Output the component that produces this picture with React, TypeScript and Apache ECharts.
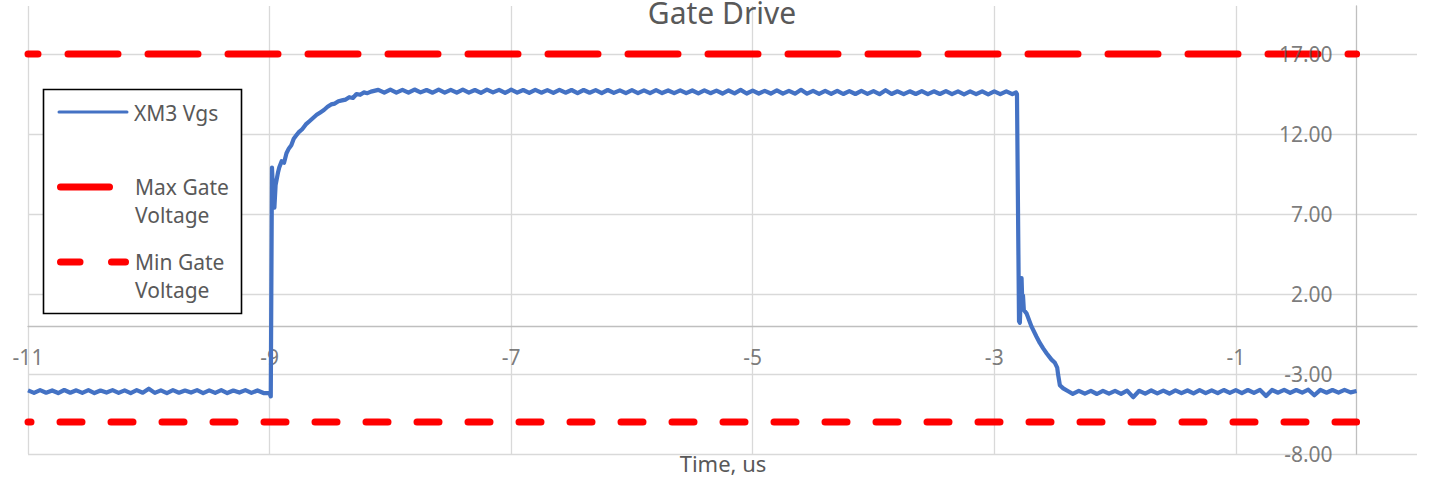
import React, { useEffect, useRef } from 'react';
import * as echarts from 'echarts';

// ---------- data ----------
const seriesNames = ['XM3 Vgs', 'Max Gate Voltage', 'Min Gate Voltage'];
const legendLines = [['XM3 Vgs'], ['Max Gate', 'Voltage'], ['Min Gate', 'Voltage']];
const chartTitle = 'Gate Drive';
const xAxisTitle = 'Time, us';
const timeRange = [-11, 0];
const maxGateVoltage = 17;
const minGateVoltage = -6;
const xTickLabels = [-11, -9, -7, -5, -3, -1];
const yTickLabels = [-8, -3, 2, 7, 12, 17];

// XM3 Vgs: [time us, volts]
const vgsBefore = [
  [-11.0, -4.02], [-10.95, -4.18], [-10.9, -4.01], [-10.85, -4.17], [-10.8, -4.03], [-10.75, -4.19],
  [-10.7, -4.0], [-10.65, -4.17], [-10.6, -4.02], [-10.55, -4.18], [-10.5, -4.01], [-10.45, -4.19],
  [-10.4, -4.03], [-10.35, -4.16], [-10.3, -4.01], [-10.25, -4.18], [-10.2, -4.02], [-10.15, -4.19],
  [-10.1, -4.01], [-10.05, -4.17], [-10.0, -3.92], [-9.95, -4.18], [-9.9, -4.02], [-9.85, -4.19],
  [-9.8, -4.01], [-9.75, -4.17], [-9.7, -4.03], [-9.65, -4.16], [-9.6, -4.01], [-9.55, -4.19],
  [-9.5, -4.02], [-9.45, -4.18], [-9.4, -4.01], [-9.35, -4.19], [-9.3, -4.03], [-9.25, -4.16],
  [-9.2, -4.01], [-9.15, -4.18], [-9.1, -4.03], [-9.05, -4.19], [-9.0, -4.2],
];
const vgsRise = [
  [-8.99, -4.4], [-8.98, 9.9], [-8.97, 8.2], [-8.96, 7.4], [-8.95, 8.8], [-8.93, 9.6],
  [-8.92, 9.9], [-8.9, 10.3], [-8.88, 10.2], [-8.86, 10.8], [-8.84, 11.1], [-8.82, 11.3],
  [-8.8, 11.7], [-8.78, 11.9], [-8.76, 12.1], [-8.73, 12.3], [-8.7, 12.6], [-8.67, 12.8],
  [-8.64, 13.0], [-8.61, 13.2], [-8.58, 13.35], [-8.55, 13.5], [-8.52, 13.7], [-8.49, 13.85],
  [-8.46, 13.9], [-8.43, 14.05], [-8.4, 14.1], [-8.37, 14.15], [-8.34, 14.3], [-8.31, 14.25],
  [-8.28, 14.5], [-8.25, 14.45], [-8.22, 14.6], [-8.19, 14.55], [-8.16, 14.65],
];
const vgsOn = [
  [-8.1, 14.76], [-8.05, 14.58], [-8.0, 14.77], [-7.95, 14.59], [-7.9, 14.76], [-7.85, 14.58],
  [-7.8, 14.78], [-7.75, 14.6], [-7.7, 14.75], [-7.65, 14.58], [-7.6, 14.77], [-7.55, 14.59],
  [-7.5, 14.76], [-7.45, 14.58], [-7.4, 14.77], [-7.35, 14.59], [-7.3, 14.75], [-7.25, 14.57],
  [-7.2, 14.77], [-7.15, 14.6], [-7.1, 14.76], [-7.05, 14.57], [-7.0, 14.77], [-6.95, 14.59],
  [-6.9, 14.75], [-6.85, 14.57], [-6.8, 14.76], [-6.75, 14.58], [-6.7, 14.74], [-6.65, 14.57],
  [-6.6, 14.76], [-6.55, 14.58], [-6.5, 14.75], [-6.45, 14.56], [-6.4, 14.75], [-6.35, 14.58],
  [-6.3, 14.74], [-6.25, 14.56], [-6.2, 14.75], [-6.15, 14.57], [-6.1, 14.73], [-6.05, 14.56],
  [-6.0, 14.74], [-5.95, 14.56], [-5.9, 14.73], [-5.85, 14.55], [-5.8, 14.74], [-5.75, 14.56],
  [-5.7, 14.72], [-5.65, 14.55], [-5.6, 14.73], [-5.55, 14.55], [-5.5, 14.72], [-5.45, 14.54],
  [-5.4, 14.73], [-5.35, 14.55], [-5.3, 14.71], [-5.25, 14.53], [-5.2, 14.72], [-5.15, 14.54],
  [-5.1, 14.76], [-5.05, 14.53], [-5.0, 14.71], [-4.95, 14.53], [-4.9, 14.7], [-4.85, 14.53],
  [-4.8, 14.72], [-4.75, 14.52], [-4.7, 14.7], [-4.65, 14.52], [-4.6, 14.76], [-4.55, 14.52],
  [-4.5, 14.69], [-4.45, 14.51], [-4.4, 14.69], [-4.35, 14.51], [-4.3, 14.7], [-4.25, 14.5],
  [-4.2, 14.68], [-4.15, 14.5], [-4.1, 14.69], [-4.05, 14.51], [-4.0, 14.68], [-3.95, 14.49],
  [-3.9, 14.74], [-3.85, 14.5], [-3.8, 14.67], [-3.75, 14.49], [-3.7, 14.67], [-3.65, 14.5],
  [-3.6, 14.68], [-3.55, 14.49], [-3.5, 14.67], [-3.45, 14.5], [-3.4, 14.68], [-3.35, 14.49],
  [-3.3, 14.66], [-3.25, 14.48], [-3.2, 14.66], [-3.15, 14.49], [-3.1, 14.67], [-3.05, 14.48],
  [-3.0, 14.66], [-2.95, 14.49], [-2.9, 14.67], [-2.85, 14.49], [-2.82, 14.6],
];
const vgsFall = [
  [-2.812, 14.5], [-2.795, 0.3], [-2.788, 0.2], [-2.78, 2.0], [-2.774, 3.0], [-2.768, 1.5],
  [-2.762, 1.9], [-2.755, 1.0], [-2.733, 0.79], [-2.691, -0.04], [-2.65, -0.67], [-2.623, -1.06],
  [-2.595, -1.4], [-2.567, -1.7], [-2.526, -2.1], [-2.498, -2.3], [-2.479, -2.6], [-2.471, -3.06],
  [-2.457, -3.7], [-2.429, -3.9], [-2.388, -4.08],
];
const vgsAfter = [
  [-2.35, -4.24], [-2.3, -4.05], [-2.25, -4.23], [-2.2, -4.06], [-2.15, -4.25], [-2.1, -4.05],
  [-2.05, -4.23], [-2.0, -4.06], [-1.95, -4.24], [-1.9, -4.04], [-1.85, -4.45], [-1.8, -4.05],
  [-1.75, -4.23], [-1.7, -4.03], [-1.65, -4.21], [-1.6, -4.04], [-1.55, -4.22], [-1.5, -4.02],
  [-1.45, -4.2], [-1.4, -4.03], [-1.35, -4.21], [-1.3, -4.01], [-1.25, -4.19], [-1.2, -4.02],
  [-1.15, -4.2], [-1.1, -4.0], [-1.05, -4.18], [-1.0, -4.01], [-0.95, -4.19], [-0.9, -4.0],
  [-0.85, -4.18], [-0.8, -3.99], [-0.75, -4.38], [-0.7, -4.0], [-0.65, -4.17], [-0.6, -3.99],
  [-0.55, -4.18], [-0.5, -4.0], [-0.45, -4.16], [-0.4, -3.98], [-0.35, -4.33], [-0.3, -3.99],
  [-0.25, -4.17], [-0.2, -4.0], [-0.15, -4.16], [-0.1, -3.99], [-0.05, -4.15], [0.0, -4.06],
];

// ---------- styles ----------
const FONT = '"Noto Sans", "Open Sans", sans-serif';
const TEXT = '#595959';
const GRIDC = '#d9d9d9';
const AXISC = '#bfbfbf';
const NONE = 'rgba(0,0,0,0)';
const BLUE = '#4472C4';
const RED = '#FF0000';

export default function App() {
  const ref = useRef<HTMLDivElement>(null);

  useEffect(() => {
    if (!ref.current) return;
    const chart = echarts.init(ref.current, null, { renderer: 'svg' });
    const vgs = [...vgsBefore, ...vgsRise, ...vgsOn, ...vgsFall, ...vgsAfter];
    const legendText = (lines: string[], x: number, y0: number) =>
      lines.map((ln, i) => ({
        type: 'text',
        x,
        y: y0 + i * 28,
        z: 22,
        style: { text: ln, font: `21px ${FONT}`, fill: TEXT, align: 'left', verticalAlign: 'middle' },
      }));
    const option: any = {
      animation: false,
      backgroundColor: '#ffffff',
      grid: { left: 28, right: 12, top: 6, bottom: 24, containLabel: false, outerBoundsMode: 'none' },
      xAxis: {
        type: 'value',
        min: -11,
        max: 0.5,
        interval: 1,
        axisLine: { show: true, onZero: true, lineStyle: { color: AXISC, width: 1.3 } },
        axisTick: { show: false },
        axisLabel: { show: false },
        splitLine: {
          show: true,
          showMinLine: true,
          showMaxLine: false,
          lineStyle: { color: [GRIDC, NONE], width: 1.3 },
        },
      },
      yAxis: {
        type: 'value',
        min: -8,
        max: 20,
        interval: 1,
        axisLine: { show: true, onZero: true, lineStyle: { color: AXISC, width: 1.3 } },
        axisTick: { show: false },
        axisLabel: { show: false },
        splitLine: {
          show: true,
          showMinLine: true,
          showMaxLine: true,
          lineStyle: { color: [GRIDC, NONE, NONE, NONE, NONE], width: 1.3 },
        },
      },
      series: [
        {
          name: seriesNames[0],
          type: 'line',
          data: vgs,
          showSymbol: false,
          symbol: 'none',
          lineStyle: { color: BLUE, width: 4.2, join: 'round' },
          z: 3,
        },
        {
          name: seriesNames[1],
          type: 'line',
          data: timeRange.map((t) => [t, maxGateVoltage]),
          showSymbol: false,
          symbol: 'none',
          lineStyle: { color: RED, width: 7, type: [50, 30], dashOffset: 39.5, cap: 'round' },
          z: 4,
        },
        {
          name: seriesNames[2],
          type: 'line',
          data: timeRange.map((t) => [t, minGateVoltage]),
          showSymbol: false,
          symbol: 'none',
          lineStyle: { color: RED, width: 7, type: [22, 29], dashOffset: 18.5, cap: 'round' },
          z: 4,
        },
        {
          name: 'x tick labels',
          type: 'scatter',
          data: xTickLabels.map((t) => [t, 0]),
          symbolSize: 1,
          itemStyle: { color: NONE },
          silent: true,
          z: 2,
          label: {
            show: true,
            position: 'inside',
            offset: [0, 31],
            align: 'center',
            verticalAlign: 'middle',
            color: TEXT,
            fontFamily: FONT,
            fontSize: 21,
            formatter: (p: any) => String(p.value[0]),
          },
        },
        {
          name: 'y tick labels',
          type: 'scatter',
          data: yTickLabels.map((v) => [0, v]),
          symbolSize: 1,
          itemStyle: { color: NONE },
          silent: true,
          z: 10,
          label: {
            show: true,
            position: 'inside',
            offset: [-24, 0],
            align: 'right',
            verticalAlign: 'middle',
            color: TEXT,
            fontFamily: FONT,
            fontSize: 21,
            formatter: (p: any) => Number(p.value[1]).toFixed(2),
          },
        },
      ],
      graphic: [
        {
          type: 'text',
          x: 722,
          y: 12.5,
          z: 20,
          style: { text: chartTitle, font: `30px ${FONT}`, fill: TEXT, align: 'center', verticalAlign: 'middle' },
        },
        {
          type: 'text',
          x: 723,
          y: 463,
          z: 20,
          style: { text: xAxisTitle, font: `22px ${FONT}`, fill: TEXT, align: 'center', verticalAlign: 'middle' },
        },
        {
          type: 'rect',
          z: 20,
          shape: { x: 43.5, y: 89.5, width: 198, height: 224 },
          style: { fill: '#ffffff', stroke: '#000000', lineWidth: 1.6 },
        },
        {
          type: 'line',
          z: 21,
          shape: { x1: 59, y1: 112, x2: 127, y2: 112 },
          style: { stroke: BLUE, lineWidth: 3, lineCap: 'round' },
        },
        ...legendText(legendLines[0], 134, 113),
        {
          type: 'line',
          z: 21,
          shape: { x1: 60.5, y1: 187, x2: 109.5, y2: 187 },
          style: { stroke: RED, lineWidth: 7, lineCap: 'round' },
        },
        ...legendText(legendLines[1], 135, 187),
        {
          type: 'line',
          z: 21,
          shape: { x1: 60.5, y1: 262, x2: 80, y2: 262 },
          style: { stroke: RED, lineWidth: 7, lineCap: 'round' },
        },
        {
          type: 'line',
          z: 21,
          shape: { x1: 111.5, y1: 262, x2: 125.5, y2: 262 },
          style: { stroke: RED, lineWidth: 7, lineCap: 'round' },
        },
        ...legendText(legendLines[2], 135, 262),
      ],
    };
    chart.setOption(option);
    return () => chart.dispose();
  }, []);

  return (
    <div
      ref={ref}
      style={{ position: 'fixed', left: 0, top: 0, width: 1429, height: 478, background: '#fff' }}
    />
  );
}
